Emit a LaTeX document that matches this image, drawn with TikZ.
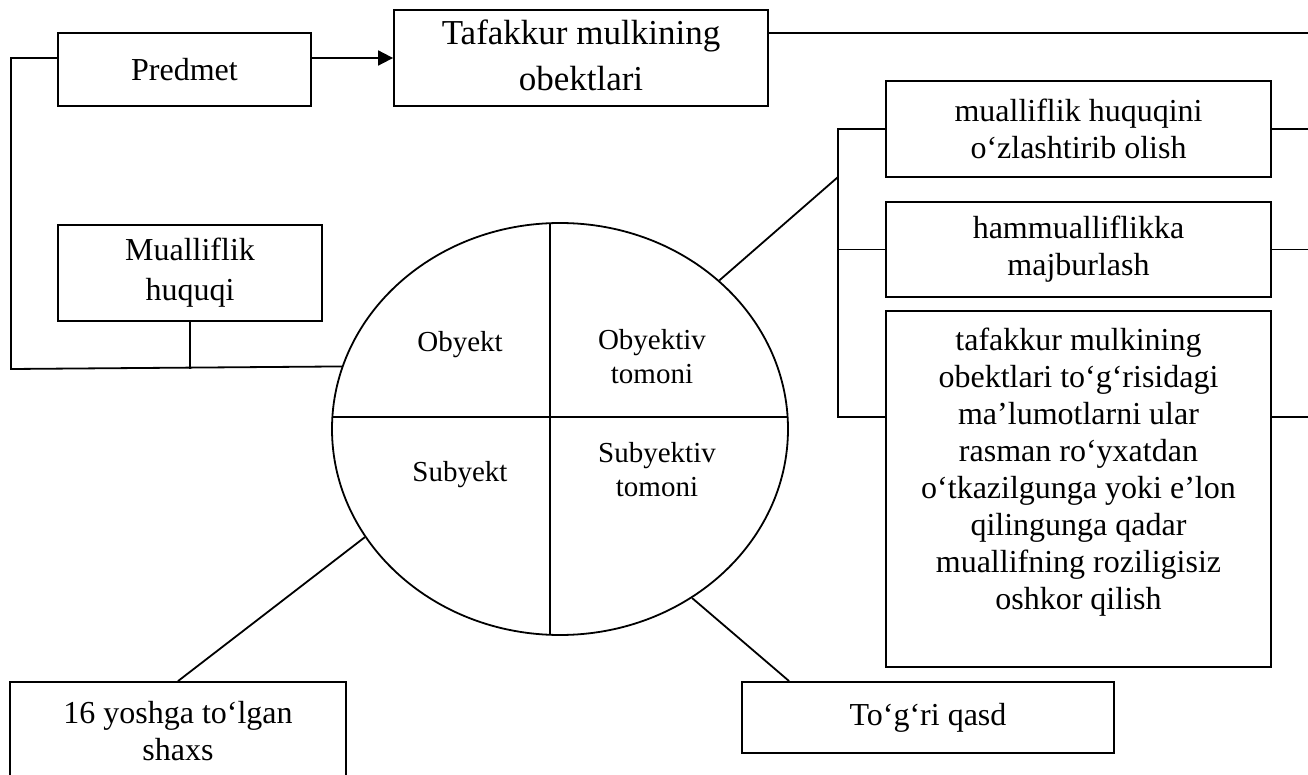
\documentclass[tikz,border=0pt]{standalone}
\usepackage{fontspec}
\setmainfont{Liberation Serif}
\usetikzlibrary{arrows.meta, positioning, shapes.geometric}

\begin{document}
\begin{tikzpicture}[x=0.5pt, y=-0.5pt, >={Triangle[length=7.5pt,width=7.5pt]},
  matn/.style={align=center, inner sep=0pt, font=\fontsize{16pt}{18.5pt}\selectfont},
  kvadrat/.style={matn, draw, line width=0.9pt},
  belgi/.style={align=center, inner sep=0pt, font=\fontsize{14.5pt}{17pt}\selectfont},
  chiziq/.style={line width=0.9pt}]
\useasboundingbox (0,0) rectangle (1308,775);
\clip (0,0) rectangle (1308,775);
% 上方方框
\node[kvadrat, minimum width=126.5pt, minimum height=36.5pt] (predmet) at (184.5,69.5) {Predmet};
\node[kvadrat, minimum width=187pt, minimum height=48pt] (tafakkur) at (581,58) {};
\node[matn, font=\fontsize{17.5pt}{23pt}\selectfont] (tafakkurmatn) at ([yshift=1.5pt]tafakkur.center) {Tafakkur mulkining\\obektlari};
\node[kvadrat, minimum width=132pt, minimum height=48pt, font=\fontsize{16pt}{20pt}\selectfont] (mualliflik) at (190,273) {Mualliflik\\huquqi};
% 右侧方框
\node[kvadrat, minimum width=192.5pt, minimum height=48pt] (ozlashtirish) at (1078.5,129) {mualliflik huquqini\\o‘zlashtirib olish};
\node[kvadrat, minimum width=192.5pt, minimum height=47.5pt] (hammualliflik) at (1078.5,249.5) {hammualliflikka\\majburlash};
\node[kvadrat, minimum width=192.5pt, minimum height=178pt] (oshkor) at (1078.5,489) {};
\node[matn, anchor=north] (oshkormatn) at ([yshift=-8.5pt]oshkor.north) {tafakkur mulkining\\obektlari to‘g‘risidagi\\ma’lumotlarni ular\\rasman ro‘yxatdan\\o‘tkazilgunga yoki e’lon\\qilingunga qadar\\muallifning roziligisiz\\oshkor qilish};
% 下方方框
\node[kvadrat, minimum width=168pt, minimum height=49pt] (shaxs) at (178,731) {16 yoshga to‘lgan\\shaxs};
\node[kvadrat, minimum width=186pt, minimum height=35.5pt] (qasd) at (928,717.5) {To‘g‘ri qasd};
% 椭圆及四个部分
\node[draw, ellipse, line width=0.9pt, minimum width=228pt, minimum height=206pt, inner sep=0pt] (doira) at (560,429) {};
\begin{scope}
\clip (560,429) ellipse [x radius=228, y radius=206];
\draw[chiziq] (550,200) -- (550,660);
\draw[chiziq] (320,417) -- (800,417);
\end{scope}
\node[belgi] (obyekt) at (460,345) {Obyekt};
\node[belgi] (obtomon) at (652,357) {Obyektiv\\tomoni};
\node[belgi] (subyekt) at (460,475) {Subyekt};
\node[belgi] (subtomon) at (657,470) {Subyektiv\\tomoni};
% 连线
\coordinate (rail1) at (11,57);
\coordinate (rail2) at (11,369);
\coordinate (yuqori) at (1308,33);
\coordinate (qavs) at (838,177);
\coordinate (qavs3) at (838,417);
\coordinate (chet) at (1308,0);
\draw[chiziq, ->] (predmet.east |- tafakkur.west) -- (tafakkur.west);
\draw[chiziq] (predmet.west |- tafakkur.west) -- (rail1 |- tafakkur.west) -- (rail2) -- (doira.164.6);
\draw[chiziq] (mualliflik.south) -- (mualliflik.south |- rail2);
\draw[chiziq] (tafakkur.east |- yuqori) -- (yuqori);
\draw[chiziq] (doira.43.9) -- (qavs);
\draw[chiziq] (ozlashtirish.west) -- (ozlashtirish.west -| qavs) -- (qavs3) -- (qavs3 -| oshkor.west);
\draw[chiziq] (hammualliflik.west) -- (hammualliflik.west -| qavs);
\foreach \b in {ozlashtirish, hammualliflik} \draw[chiziq] (\b.east) -- (\b.east -| chet);
\draw[chiziq] (qavs3 -| oshkor.east) -- (qavs3 -| chet);
\draw[chiziq] (doira.209.8) -- (shaxs.north);
\draw[chiziq] (doira.308.6) -- ([xshift=24pt]qasd.north west);
\end{tikzpicture}
\end{document}
